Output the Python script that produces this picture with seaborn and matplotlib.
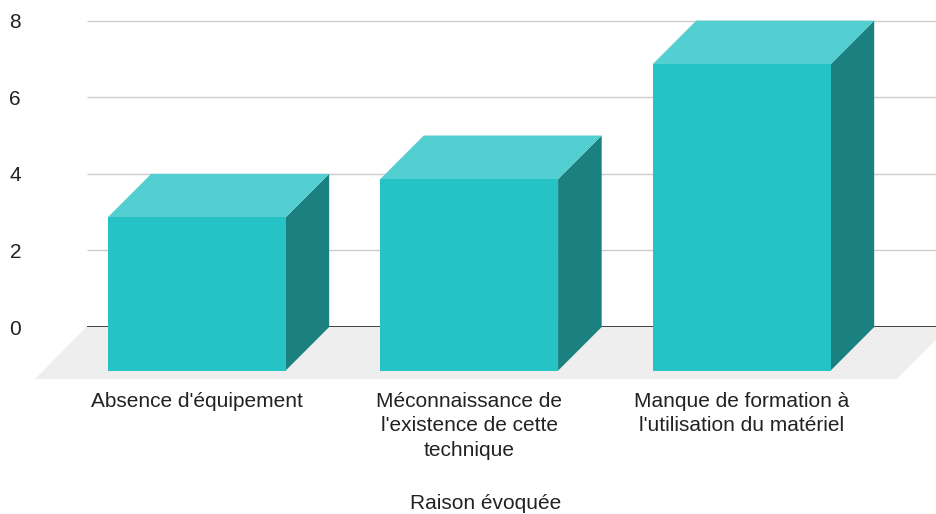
import matplotlib
matplotlib.use("Agg")
import matplotlib.pyplot as plt
from matplotlib.patches import Polygon
import seaborn as sns

# data
categories = [
    "Absence d'équipement",
    "Méconnaissance de\nl'existence de cette\ntechnique",
    "Manque de formation à\nl'utilisation du matériel",
]
values = [4, 5, 8]
y_ticks = [0, 2, 4, 6, 8]
x_title = "Raison évoquée"

# colours of the fake 3D faces
front_col = "#25C3C5"
top_col = "#53CFD1"
side_col = "#1A8180"
floor_col = "#EEEEEE"

# depth of the 3D effect, in data units
dx, dy = 0.16, 1.14

sns.set_theme(style="white")
plt.rcParams["font.family"] = ["Liberation Sans", "DejaVu Sans"]

fig = plt.figure(figsize=(9.37, 5.14), dpi=100)
ax = fig.add_axes([35 / 937, 0.2595, 1 - 35 / 937, 0.7041])

# front faces of the bars, shifted down by the depth
sns.barplot(x=categories, y=values, color=front_col, saturation=1,
            width=0.653, bottom=-dy, linewidth=0, zorder=3, ax=ax)

x_left, x_right = -0.593, 2.717
ax.set_xlim(x_left, x_right)
ax.set_ylim(-1.40, 8.05)

# back-plane gridlines
grid_x0 = -0.404
for t in y_ticks:
    ax.hlines(t, grid_x0, x_right, color="#333333" if t == 0 else "#CCCCCC",
              lw=1.3 if t == 0 else 1.0, zorder=0)

# floor
floor = Polygon([(x_left, -1.36), (grid_x0, 0), (2.76, 0), (2.569, -1.36)],
                closed=True, facecolor=floor_col, edgecolor="none", zorder=0.5)
ax.add_patch(floor)

# top and side faces built from the drawn bars
for bar in list(ax.patches):
    if bar is floor:
        continue
    x0, w = bar.get_x(), bar.get_width()
    b, h = bar.get_y(), bar.get_height()
    x1, t = x0 + w, b + h
    ax.add_patch(Polygon([(x1, b), (x1 + dx, b + dy), (x1 + dx, t + dy), (x1, t)],
                         closed=True, facecolor=side_col, edgecolor="none", zorder=2))
    ax.add_patch(Polygon([(x0, t), (x0 + dx, t + dy), (x1 + dx, t + dy), (x1, t)],
                         closed=True, facecolor=top_col, edgecolor="none", zorder=2))

ax.set_yticks(y_ticks)
ax.set_yticklabels([str(t) for t in y_ticks])
ax.tick_params(axis="y", length=0, pad=10, labelsize=15, labelcolor="#222222")
ax.tick_params(axis="x", length=0, pad=8, labelsize=15, labelcolor="#222222")
for lab in ax.get_xticklabels():
    lab.set_linespacing(1.36)

ax.set_xlabel(x_title, fontsize=15, color="#222222", labelpad=25)
ax.set_ylabel("")
for s in ax.spines.values():
    s.set_visible(False)
ax.set_facecolor("none")

fig.savefig("out.png", dpi=100)
